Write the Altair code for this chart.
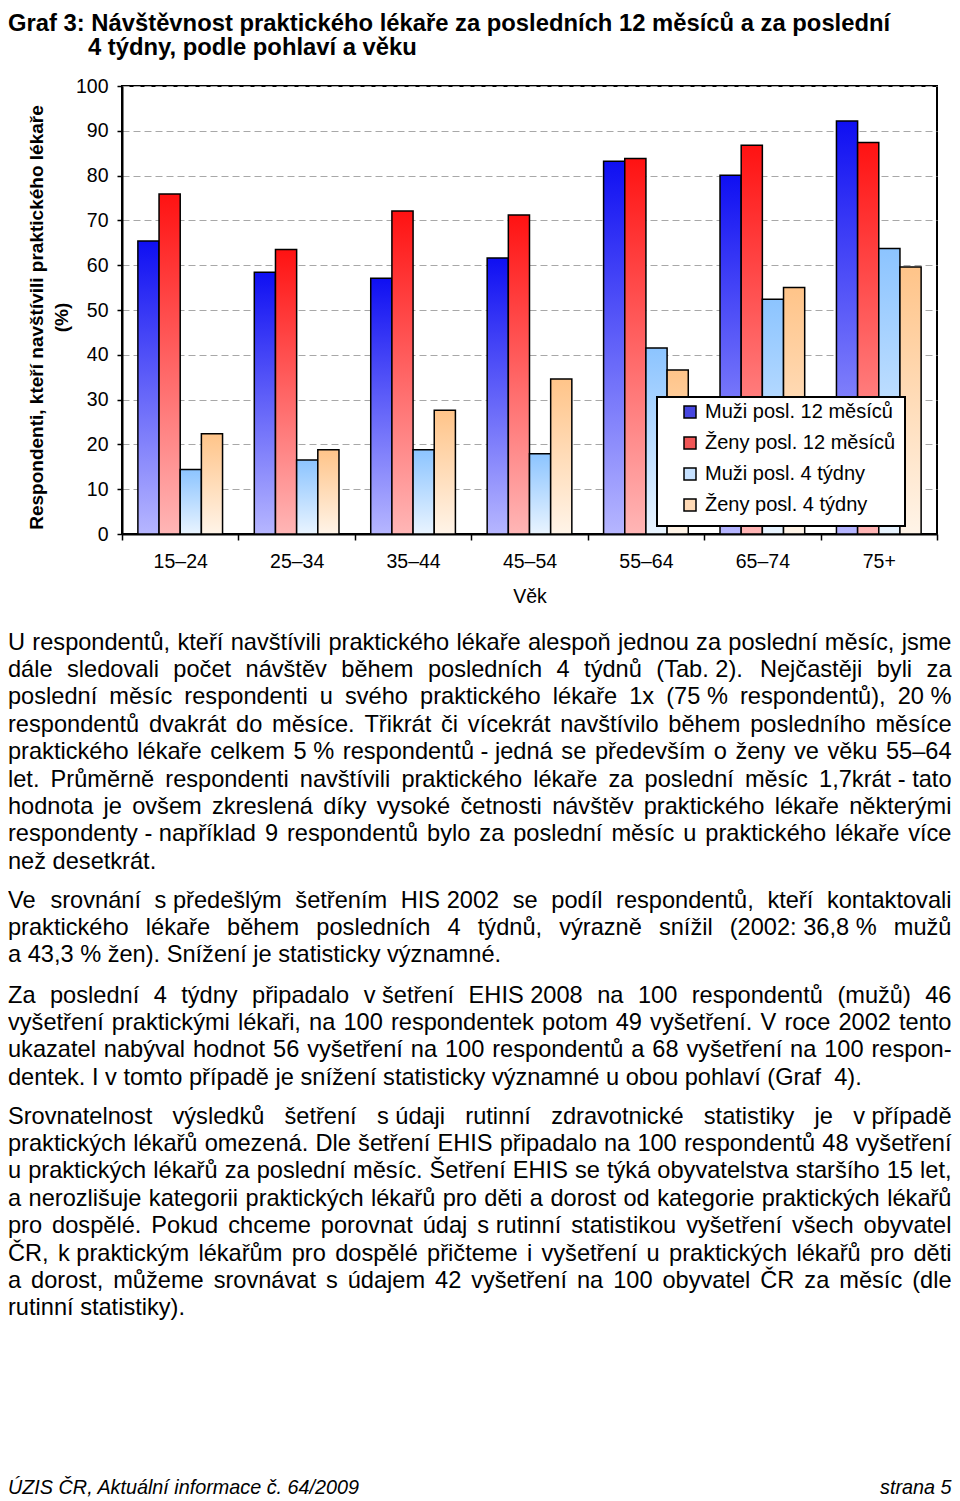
import unicodedata
import altair as alt
import pandas as pd

# ---------------- data ----------------
categories = ["15–24", "25–34", "35–44", "45–54", "55–64", "65–74", "75+"]
series = ["Muži posl. 12 měsíců", "Ženy posl. 12 měsíců", "Muži posl. 4 týdny", "Ženy posl. 4 týdny"]
muzi_12 = [65.4, 58.4, 57.1, 61.6, 83.2, 80.1, 92.2]
zeny_12 = [75.9, 63.5, 72.1, 71.2, 83.8, 86.8, 87.4]
muzi_4 = [14.4, 16.5, 18.8, 17.9, 41.5, 52.4, 63.7]
zeny_4 = [22.4, 18.8, 27.6, 34.6, 36.6, 55.0, 59.6]

grad_top = ["#0f0ff2", "#ff1212", "#8cc4ff", "#ffc489"]
grad_bottom = ["#b6b6ff", "#ffb6b6", "#e9f4ff", "#fff4e8"]
swatch = ["#4646e0", "#f05656", "#c6e1ff", "#ffdab6"]

title_lines = ["Graf 3: Návštěvnost praktického lékaře za posledních 12 měsíců a za poslední",
               "4 týdny, podle pohlaví a věku"]
y_title = ["Respondenti, kteří navštívili praktického lékaře", "(%)"]
x_title = "Věk"

NB = "\u00a0"
para1 = [
    "U respondentů, kteří navštívili praktického lékaře alespoň jednou za poslední měsíc, jsme",
    f"dále sledovali počet návštěv během posledních 4 týdnů (Tab.{NB}2). Nejčastěji byli za",
    f"poslední měsíc respondenti u svého praktického lékaře 1x (75{NB}% respondentů), 20{NB}%",
    "respondentů dvakrát do měsíce. Třikrát či vícekrát navštívilo během posledního měsíce",
    f"praktického lékaře celkem 5{NB}% respondentů{NB}-{NB}jedná se především o ženy ve věku 55–64",
    f"let. Průměrně respondenti navštívili praktického lékaře za poslední měsíc 1,7krát{NB}-{NB}tato",
    "hodnota je ovšem zkreslená díky vysoké četnosti návštěv praktického lékaře některými",
    f"respondenty{NB}-{NB}například 9 respondentů bylo za poslední měsíc u praktického lékaře více",
    "než desetkrát.",
]
para2 = [
    f"Ve srovnání s{NB}předešlým šetřením HIS{NB}2002 se podíl respondentů, kteří kontaktovali",
    f"praktického lékaře během posledních 4 týdnů, výrazně snížil (2002:{NB}36,8{NB}% mužů",
    f"a{NB}43,3{NB}% žen). Snížení je statisticky významné.",
]
para3 = [
    f"Za poslední 4 týdny připadalo v{NB}šetření EHIS{NB}2008 na 100 respondentů (mužů) 46",
    "vyšetření praktickými lékaři, na 100 respondentek potom 49 vyšetření. V roce 2002 tento",
    "ukazatel nabýval hodnot 56 vyšetření na 100 respondentů a 68 vyšetření na 100 respon-",
    f"dentek. I v tomto případě je snížení statisticky významné u obou pohlaví (Graf{NB}{NB}4).",
]
para4 = [
    f"Srovnatelnost výsledků šetření s{NB}údaji rutinní zdravotnické statistiky je v{NB}případě",
    "praktických lékařů omezená. Dle šetření EHIS připadalo na 100 respondentů 48 vyšetření",
    "u praktických lékařů za poslední měsíc. Šetření EHIS se týká obyvatelstva staršího 15 let,",
    "a nerozlišuje kategorii praktických lékařů pro děti a dorost od kategorie praktických lékařů",
    f"pro dospělé. Pokud chceme porovnat údaj s{NB}rutinní statistikou vyšetření všech obyvatel",
    f"ČR, k{NB}praktickým lékařům pro dospělé přičteme i vyšetření u praktických lékařů pro děti",
    "a dorost, můžeme srovnávat s údajem 42 vyšetření na 100 obyvatel ČR za měsíc (dle",
    "rutinní statistiky).",
]
paragraphs = [para1, para2, para3, para4]
footer_left = "ÚZIS ČR, Aktuální informace č. 64/2009"
footer_right = "strana 5"

# ---------------- layout constants ----------------
FONT = "Liberation Sans, Arial, Helvetica, sans-serif"
W, H = 815, 448          # plot area
OX, OY = 122, 86         # plot origin on the page
BODY_SIZE = 23.6
LINE_GAP = 27.4
PARA_BASE = [649.5, 907.5, 1002.5, 1123.5]
X0, X1 = 8, 951.5

# Arial/Helvetica advance widths (1/1000 em)
HW = {" ": 278, NB: 278, "%": 889, "(": 333, ")": 333, ",": 278, "-": 333, ".": 278,
      "/": 278, ":": 278, ";": 278, "–": 556, "í": 278, "Í": 278}
for ch in "0123456789":
    HW[ch] = 556
for ch, w in zip("ABCDEFGHIJKLMNOPQRSTUVWXYZ",
                 [667, 667, 722, 722, 667, 611, 778, 722, 278, 500, 667, 556, 833, 722, 778,
                  667, 778, 722, 667, 611, 722, 667, 944, 667, 667, 611]):
    HW[ch] = w
for ch, w in zip("abcdefghijklmnopqrstuvwxyz",
                 [556, 556, 500, 556, 556, 278, 556, 556, 222, 222, 500, 222, 833, 556, 556,
                  556, 556, 333, 500, 278, 556, 500, 722, 500, 500, 500]):
    HW[ch] = w


def char_w(ch):
    if ch in HW:
        return HW[ch]
    base = unicodedata.normalize("NFD", ch)[0]
    return HW.get(base, 556)


def text_w(s, size):
    return sum(char_w(c) for c in s) * size / 1000.0


rows = []
for p, lines in enumerate(paragraphs):
    for i, line in enumerate(lines):
        base_y = PARA_BASE[p] + i * LINE_GAP
        last = i == len(lines) - 1
        words = line.split(" ")
        if last or len(words) == 1:
            rows.append({"word": line, "px": X0 - OX, "py": base_y - OY, "style": "body", "al": "left"})
            continue
        widths = [text_w(w, BODY_SIZE) for w in words]
        gap = (X1 - X0 - sum(widths)) / (len(words) - 1)
        gap = max(gap, 0.6 * 278 * BODY_SIZE / 1000)
        x = X0
        for j, (w, wd) in enumerate(zip(words, widths)):
            if j == len(words) - 1:
                rows.append({"word": w, "px": X1 - OX, "py": base_y - OY, "style": "body", "al": "right"})
            else:
                rows.append({"word": w, "px": x - OX, "py": base_y - OY, "style": "body", "al": "left"})
            x += wd + gap

rows.append({"word": title_lines[0], "px": X0 - OX, "py": 30.5 - OY, "style": "title", "al": "left"})
rows.append({"word": title_lines[1], "px": 88 - OX, "py": 55 - OY, "style": "title", "al": "left"})
rows.append({"word": footer_left, "px": X0 - OX, "py": 1494 - OY, "style": "foot", "al": "left"})
rows.append({"word": footer_right, "px": X1 - OX, "py": 1494 - OY, "style": "foot", "al": "right"})
text_df = pd.DataFrame(rows)

values = [muzi_12, zeny_12, muzi_4, zeny_4]
bar_df = pd.DataFrame([
    {"age": c, "series": s, "value": v}
    for s, vals in zip(series, values) for c, v in zip(categories, vals)
])

# ---------------- chart ----------------
x_enc = alt.X("age:N", sort=categories,
              scale=alt.Scale(domain=categories, paddingInner=0, paddingOuter=0),
              axis=alt.Axis(title=x_title, labelAngle=0, labelFontSize=19.5, labelPadding=12,
                            tickBand="extent", tickSize=6, tickWidth=1.5, domainWidth=2,
                            grid=False, titleFontSize=19.5, titleFontWeight="normal",
                            titlePadding=17))
xo_enc = alt.XOffset("series:N", sort=series,
                     scale=alt.Scale(domain=series, paddingInner=0, paddingOuter=0.75))
y_enc = alt.Y("value:Q", scale=alt.Scale(domain=[0, 100], nice=False),
              axis=alt.Axis(values=list(range(0, 101, 10)), title=y_title, format="d",
                            titleFontSize=19, titleFontWeight="bold", titleLineHeight=25,
                            titlePadding=4, titleY=231, labelFontSize=19.5, labelPadding=9,
                            tickSize=5, tickWidth=1.5, domainWidth=2, grid=True,
                            gridColor="#a8a8a8", gridDash=[7, 4], gridWidth=1))

base = alt.Chart(bar_df)
bar_layers = []
for i, s in enumerate(series):
    grad = {"gradient": "linear", "x1": 0, "x2": 0, "y1": 0, "y2": 1,
            "stops": [{"offset": 0, "color": grad_top[i]}, {"offset": 1, "color": grad_bottom[i]}]}
    bar_layers.append(
        base.transform_filter(alt.FieldEqualPredicate(field="series", equal=s))
        .mark_bar(fill=grad, stroke="black", strokeWidth=1.5)
        .encode(x=x_enc, xOffset=xo_enc, y=y_enc)
    )

box = alt.Chart(pd.DataFrame({"k": [0]})).mark_rect(
    fill="white", stroke="black", strokeWidth=2
).encode(x=alt.value(535), x2=alt.value(783), y=alt.value(311), y2=alt.value(440))

legend_layer = base.mark_square(opacity=0, size=1, stroke="black").encode(
    x=x_enc, xOffset=xo_enc, y=y_enc,
    color=alt.Color("series:N", sort=series, scale=alt.Scale(domain=series, range=swatch),
                    legend=alt.Legend(title=None, orient="none", legendX=558, legendY=316,
                                      symbolType="square", symbolSize=144, symbolOpacity=1,
                                      symbolStrokeColor="black", symbolStrokeWidth=1.5,
                                      labelFontSize=20, labelFont=FONT, labelColor="black",
                                      labelOffset=5, rowPadding=11, padding=0,
                                      labelLimit=400))
)

bars_group = alt.layer(*bar_layers, box, legend_layer)

styles = {
    "body": dict(font=FONT, fontSize=BODY_SIZE),
    "title": dict(font=FONT, fontSize=23.8, fontWeight="bold"),
    "foot": dict(font=FONT, fontSize=19.8, fontStyle="italic"),
}
text_layers = []
for st, kw in styles.items():
    for al in ["left", "right"]:
        sub = text_df[(text_df["style"] == st) & (text_df["al"] == al)]
        if len(sub) == 0:
            continue
        text_layers.append(
            alt.Chart(sub).mark_text(align=al, baseline="alphabetic", color="black", **kw)
            .encode(x=alt.X("px:Q", scale=None, axis=None),
                    y=alt.Y("py:Q", scale=None, axis=None),
                    text="word:N")
        )
text_group = alt.layer(*text_layers)

chart = alt.layer(bars_group, text_group).resolve_scale(
    x="independent", y="independent"
).properties(
    width=W, height=H,
    padding={"left": 114, "top": 78, "right": 15, "bottom": 967},
    autosize=alt.AutoSizeParams(type="none"),
).configure_view(
    stroke="black", strokeWidth=2
).configure_axis(
    labelFont=FONT, titleFont=FONT, labelColor="black", titleColor="black",
    domainColor="black", tickColor="black"
)

chart.save("out.html", embed_options={"renderer": "svg", "actions": False})
